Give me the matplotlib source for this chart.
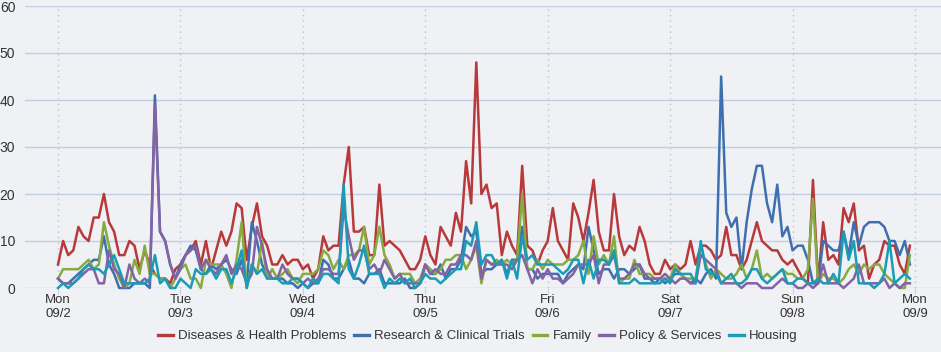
import numpy as np
import matplotlib.pyplot as plt

# hourly counts, Mon 09/2 00:00 .. Sun 09/8 23:00
diseases = [5,10,7,8,13,11,10,15,15,20,14,12,7,7,10,9,4,8,5,3,2,2,1,4,
            5,7,8,10,5,10,4,8,12,9,12,18,17,6,13,18,11,9,5,5,7,5,6,6,
            4,5,2,4,11,8,9,9,22,30,12,12,13,7,7,22,9,10,9,8,6,4,4,6,
            11,7,5,13,11,9,16,12,27,18,48,20,22,17,18,7,12,9,7,26,9,8,5,8,
            10,17,10,8,6,18,15,10,16,23,12,8,8,20,11,7,9,8,13,10,5,3,3,6,
            4,5,4,5,10,5,9,9,8,6,7,13,7,7,4,6,10,14,10,9,8,8,6,5,
            6,4,2,1,23,1,14,6,7,5,17,14,18,8,9,2,5,6,10,9,9,5,3,9]
research = [2,1,1,2,3,4,5,6,6,11,5,3,0,0,0,1,1,1,0,41,12,10,5,2,
            5,7,9,8,4,3,5,4,5,6,4,3,6,1,14,10,5,3,2,2,2,1,1,0,
            1,0,1,1,6,5,2,2,4,6,2,2,1,3,3,4,1,1,1,1,2,0,0,1,
            5,3,3,5,2,4,4,6,13,11,12,3,4,4,5,6,3,6,6,13,4,4,2,3,
            3,3,3,1,3,4,5,4,13,8,3,4,4,2,4,4,3,4,5,2,2,1,2,1,
            2,3,3,2,1,2,1,3,4,2,45,16,13,15,4,14,21,26,26,18,14,22,11,13,
            8,9,9,6,1,1,10,9,8,8,12,7,14,9,13,14,14,14,13,10,10,7,10,5]
family = [2,4,4,4,4,5,6,4,5,14,9,5,2,0,1,6,3,9,3,3,2,2,0,2,
          4,5,2,2,0,6,5,5,5,3,0,6,14,0,5,3,10,2,4,2,3,4,2,1,
          3,3,3,4,8,7,4,6,4,7,7,8,13,5,7,13,7,5,2,3,3,3,1,2,
          5,4,3,4,6,6,7,7,4,6,9,1,6,5,6,5,6,5,6,20,4,4,6,4,
          6,5,5,5,6,6,7,10,3,11,5,7,5,11,1,2,2,6,3,3,3,2,2,2,
          2,5,3,2,2,2,9,5,2,4,3,2,2,3,5,2,4,8,2,3,2,3,4,3,
          3,2,2,4,19,1,3,2,2,1,2,4,5,3,5,4,5,5,3,2,1,0,0,7]
policy = [2,1,1,1,2,3,4,4,1,1,8,4,3,0,5,2,1,2,1,39,12,10,5,2,
          4,7,8,9,4,6,4,3,5,7,3,5,4,1,3,13,9,4,2,2,5,3,2,2,
          1,2,1,2,4,4,3,3,17,11,6,8,8,4,5,3,6,4,2,3,1,1,1,1,
          5,3,4,3,3,5,5,7,7,6,10,2,6,5,5,5,5,4,6,7,4,1,4,2,
          4,2,2,1,2,3,5,5,5,7,1,5,5,7,2,2,3,5,5,3,2,2,2,3,
          2,1,2,2,1,1,7,6,5,4,1,1,1,1,0,1,1,1,0,0,0,1,2,1,
          1,0,0,1,0,1,5,1,1,1,0,1,2,5,1,1,1,1,2,0,1,0,1,1]
housing = [0,1,0,1,2,4,5,4,4,3,5,7,4,1,1,1,1,1,2,7,1,2,0,0,
           2,1,0,4,3,3,4,2,4,4,1,4,8,0,5,3,4,2,2,2,1,1,2,2,
           1,0,2,1,3,3,2,1,22,4,2,5,9,3,3,3,0,2,1,2,1,2,0,1,
           3,2,2,1,2,3,4,4,10,9,14,5,7,7,5,6,2,6,2,11,6,7,5,5,
           5,5,4,3,4,6,6,1,6,2,6,6,5,8,1,1,1,2,1,1,1,1,1,2,
           1,4,3,3,3,1,10,4,3,3,1,2,3,1,1,2,4,4,2,1,2,3,4,1,
           1,2,2,1,1,2,1,1,3,1,12,6,10,1,1,1,0,1,3,10,1,2,3,2]

names = ['Diseases & Health Problems', 'Research & Clinical Trials', 'Family',
         'Policy & Services', 'Housing']
colors = ['#b8393b', '#3f6fae', '#86ab41', '#8462a3', '#1b9cb6']
day_labels = ['Mon\n09/2', 'Tue\n09/3', 'Wed\n09/4', 'Thu\n09/5', 'Fri\n09/6',
              'Sat\n09/7', 'Sun\n09/8', 'Mon\n09/9']

plt.rcParams['font.family'] = ['Liberation Sans', 'DejaVu Sans']
bg = '#eff1f4'
fig = plt.figure(figsize=(9.41, 3.52), dpi=100, facecolor=bg)
ax = fig.add_axes([25/941, 64/352, 916/941, 282/352], facecolor=bg)

hours = np.arange(len(diseases))
for s, n, c in zip([diseases, research, family, policy, housing], names, colors):
    ax.plot(hours, s, color=c, lw=1.8, label=n, clip_on=False, zorder=3)

ax.set_xlim(-6.47, 173.1)
ax.set_ylim(0, 60)
ax.set_yticks(range(0, 61, 10))
ax.set_xticks(range(0, 169, 24))
ax.set_xticklabels(day_labels, linespacing=1.25)
for v in range(0, 61, 10):
    ax.axhline(v, color='#c3cde3', lw=1, zorder=1)
for d in range(0, 169, 24):
    ax.axvline(d, color='#b8c2dc', lw=1, ls=(0, (1, 3)), zorder=1)
for sp in ax.spines.values():
    sp.set_visible(False)
ax.tick_params(axis='y', length=0, pad=7, labelsize=10, labelcolor='#333333')
ax.tick_params(axis='x', length=4, color='#c3cde3', pad=0, labelsize=9.5,
               labelcolor='#333333')

leg = fig.legend(loc='center', bbox_to_anchor=(478/941, 1 - 336/352), ncol=5,
                 frameon=False, fontsize=9.5, handlelength=1.1, handletextpad=0.4,
                 columnspacing=0.6)
for t in leg.get_texts():
    t.set_color('#333333')
for h in leg.legend_handles:
    h.set_linewidth(2.4)

plt.savefig('out.png', dpi=100, facecolor=bg)
